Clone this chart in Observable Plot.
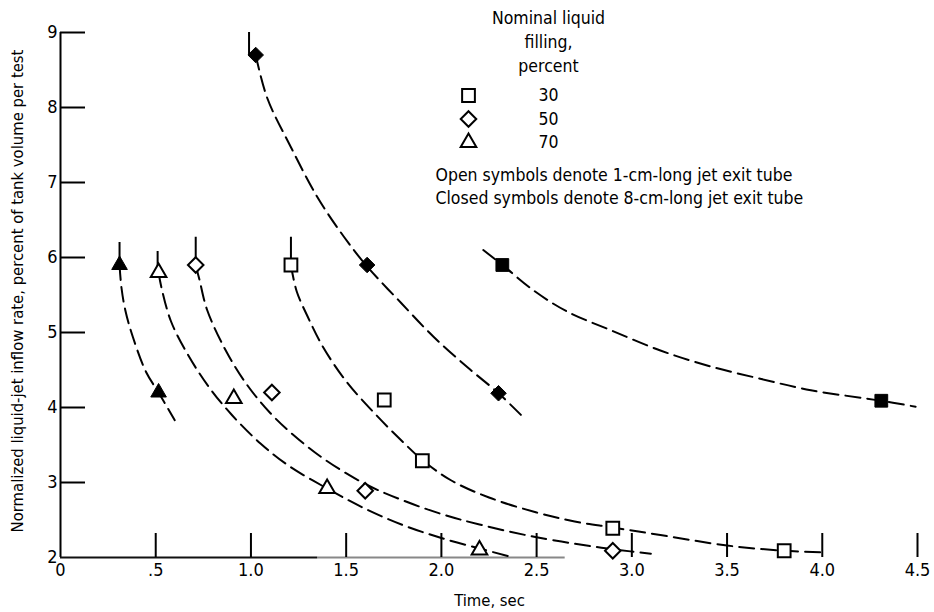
<!DOCTYPE html>
<html><head><meta charset="utf-8">
<script src="https://cdn.jsdelivr.net/npm/d3@7"></script>
<script src="https://cdn.jsdelivr.net/npm/@observablehq/plot@0.6"></script>
<style>
body{margin:0;background:#fff;}
#chart svg{font-family:"DejaVu Sans Condensed","Liberation Sans Narrow","Roboto",sans-serif;color:#000;}
</style></head><body><div id="chart"></div>
<script>
// ---- tick values / labels ----
const xTickValues = [0, 0.5, 1.0, 1.5, 2.0, 2.5, 3.0, 3.5, 4.0, 4.5];
const xTickLabels = ["0", ".5", "1.0", "1.5", "2.0", "2.5", "3.0", "3.5", "4.0", "4.5"];
const xTickMarks = [0.5, 1.0, 1.5, 2.0, 2.5, 3.0, 3.5, 4.0, 4.5];
const yTickValues = [2, 3, 4, 5, 6, 7, 8, 9];
const yTickMarks = [3, 4, 5, 6, 7, 8, 9];
const baselineDarkEnd = 1.35;
const baselineEnd = 2.65;

// ---- measured points: time (sec), normalized inflow rate (%) ----
const open30T = [1.21, 1.70, 1.90, 2.90, 3.80];
const open30V = [5.9, 4.1, 3.29, 2.39, 2.09];
const open50T = [0.71, 1.11, 1.60, 2.90];
const open50V = [5.9, 4.2, 2.89, 2.09];
const open70T = [0.515, 0.91, 1.40, 2.20];
const open70V = [5.8, 4.12, 2.92, 2.1];
const closed30T = [2.32, 4.31];
const closed30V = [5.9, 4.09];
const closed50T = [1.025, 1.61, 2.30];
const closed50V = [8.7, 5.9, 4.19];
const closed70T = [0.31, 0.515];
const closed70V = [5.9, 4.2];

// ---- faired curves [time, rate] ----
const curveClosed70 = [[0.31,5.9],[0.32,5.6],[0.34,5.3],[0.38,4.94],[0.45,4.47],[0.515,4.2],[0.6,3.83]];
const curveOpen70 = [[0.515,5.8],[0.53,5.6],[0.58,5.15],[0.67,4.7],[0.78,4.27],[0.9,3.9],[1.05,3.52],[1.2,3.22],[1.4,2.92],[1.6,2.65],[1.8,2.43],[2.0,2.26],[2.2,2.12],[2.35,2.02]];
const curveOpen50 = [[0.71,5.9],[0.73,5.7],[0.77,5.3],[0.87,4.75],[0.98,4.3],[1.1,3.93],[1.22,3.64],[1.38,3.32],[1.6,2.98],[1.8,2.76],[2.0,2.58],[2.2,2.44],[2.5,2.27],[2.84,2.13],[2.9,2.11],[3.1,2.05]];
const curveOpen30 = [[1.21,5.9],[1.24,5.55],[1.3,5.2],[1.38,4.8],[1.5,4.35],[1.65,3.92],[1.79,3.56],[1.9,3.3],[2.05,3.03],[2.25,2.8],[2.5,2.6],[2.7,2.48],[2.9,2.4],[3.15,2.3],[3.5,2.16],[3.8,2.09],[4.0,2.07]];
const curveClosed50 = [[1.025,8.7],[1.085,8.13],[1.21,7.47],[1.35,6.8],[1.49,6.27],[1.61,5.88],[1.79,5.39],[1.96,4.94],[2.14,4.53],[2.3,4.19],[2.43,3.87]];
const curveClosed30 = [[2.22,6.1],[2.32,5.9],[2.49,5.55],[2.66,5.28],[2.89,5.03],[3.15,4.76],[3.41,4.55],[3.68,4.38],[3.94,4.23],[4.31,4.09],[4.49,4.01]];

// solid stubs above the first point of each curve
const stubT = [0.31, 0.51, 0.71, 1.21, 0.99];
const stubTop = [6.2, 6.08, 6.27, 6.27, 9.0];
const stubBottom = [5.95, 5.85, 5.95, 5.95, 8.7];

// ---- legend ----
const legendTitle = "Nominal liquid\nfilling,\npercent";
const legendSymbols = ["square", "diamond2", "triangle"];
const legendLabels = ["30", "50", "70"];
const legendNotes = ["Open symbols denote 1-cm-long jet exit tube", "Closed symbols denote 8-cm-long jet exit tube"];

const pts = (T, V) => T.map((t, i) => ({t, v: V[i]}));
const curveLine = c => Plot.line(c, {x: d => d[0], y: d => d[1], curve: "catmull-rom", stroke: "#000", strokeWidth: 2, strokeDasharray: "15,7"});
const stubs = stubT.map((t, i) => ({t, top: stubTop[i], bottom: stubBottom[i]}));

const sym = {square: 7.2, diamond2: 7.0, triangle: 5.8};
const openDots = (T, V, s) => Plot.dot(pts(T, V), {x: "t", y: "v", symbol: () => s, r: sym[s], fill: "#fff", stroke: "#000", strokeWidth: 2});
const closedDots = (T, V, s) => Plot.dot(pts(T, V), {x: "t", y: "v", symbol: () => s, r: sym[s], fill: "#000", stroke: "#000", strokeWidth: 1});

const TICKFS = 18, LEGFS = 17.5, TITLEFS = 16.5;
const marks = [
  Plot.ruleX([0], {stroke: "#000", strokeWidth: 2}),
  Plot.ruleY([2], {x1: baselineDarkEnd, x2: baselineEnd, stroke: "#888", strokeWidth: 2}),
  Plot.ruleY([2], {x1: 0, x2: baselineDarkEnd, stroke: "#111", strokeWidth: 2}),
  Plot.axisY(yTickMarks, {tickSize: -25, strokeWidth: 2, tickFormat: () => "", label: null}),
  Plot.axisY(yTickValues, {tickSize: 0, tickPadding: 3, fontSize: TICKFS, label: null, tickFormat: d => String(d)}),
  Plot.axisX(xTickMarks, {tickSize: -24, strokeWidth: 2, tickFormat: () => "", label: null}),
  Plot.axisX(xTickValues, {tickSize: 0, tickPadding: 6, fontSize: TICKFS, label: null, tickFormat: d => xTickLabels[xTickValues.indexOf(d)]}),
  Plot.ruleX(stubs, {x: "t", y1: "top", y2: "bottom", stroke: "#000", strokeWidth: 2}),
  curveLine(curveClosed70), curveLine(curveOpen70), curveLine(curveOpen50),
  curveLine(curveOpen30), curveLine(curveClosed50), curveLine(curveClosed30),
  openDots(open30T, open30V, "square"),
  openDots(open50T, open50V, "diamond2"),
  openDots(open70T, open70V, "triangle"),
  closedDots(closed30T, closed30V, "square"),
  closedDots(closed50T, closed50V, "diamond2"),
  closedDots(closed70T, closed70V, "triangle"),
  // legend
  Plot.text([legendTitle], {frameAnchor: "top-left", dx: 488, dy: 8, fontSize: LEGFS, lineHeight: 1.37, textAnchor: "middle", lineAnchor: "middle", fill: "#000"}),
  ...legendSymbols.map((s, i) => Plot.dot([s], {frameAnchor: "top-left", dx: 408, dy: 63 + i * 23.5, symbol: () => s, r: sym[s], fill: "#fff", stroke: "#000", strokeWidth: 2})),
  ...legendLabels.map((l, i) => Plot.text([l], {frameAnchor: "top-left", dx: 488, dy: 63 + i * 23.5, fontSize: LEGFS, textAnchor: "middle", lineAnchor: "middle", fill: "#000"})),
  ...legendNotes.map((n, i) => Plot.text([n], {frameAnchor: "top-left", dx: 375, dy: 143 + i * 23, fontSize: LEGFS, textAnchor: "start", lineAnchor: "middle", fill: "#000"})),
  // axis titles
  Plot.text(["Time, sec"], {frameAnchor: "bottom", dx: 489 - (60 + 857 / 2), dy: 43, fontSize: TITLEFS, lineAnchor: "middle", fill: "#000"}),
  Plot.text(["Normalized liquid-jet inflow rate, percent of tank volume per test"], {frameAnchor: "left", dx: -43, dy: -4, rotate: -90, textAnchor: "middle", fontSize: TITLEFS, lineAnchor: "middle", fill: "#000"})
];

const chart = Plot.plot({
  width: 934, height: 612,
  marginLeft: 60, marginRight: 17, marginTop: 32, marginBottom: 55,
  x: {domain: [0, 4.5], axis: null},
  y: {domain: [2, 9], axis: null},
  style: {background: "#fff", color: "#000", overflow: "visible"},
  marks
});
document.getElementById("chart").appendChild(chart);
</script>
</body></html>
